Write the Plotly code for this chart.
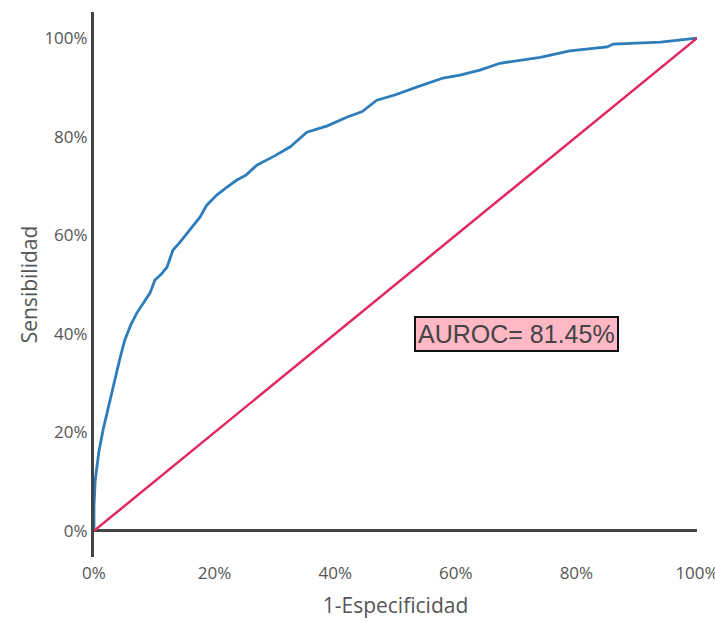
import plotly.graph_objects as go

fpr = [0.0, 0.0, 0.002, 0.008, 0.015, 0.025, 0.035, 0.043, 0.051, 0.061, 0.071, 0.082,
       0.093, 0.101, 0.111, 0.121, 0.131, 0.142, 0.154, 0.165, 0.176, 0.187, 0.204,
       0.220, 0.237, 0.252, 0.270, 0.298, 0.325, 0.353, 0.387, 0.420, 0.445, 0.469,
       0.500, 0.536, 0.579, 0.607, 0.640, 0.673, 0.705, 0.740, 0.789, 0.820, 0.851,
       0.861, 0.900, 0.939, 0.970, 1.0]
tpr = [0.0, 0.05, 0.103, 0.160, 0.205, 0.258, 0.306, 0.350, 0.387, 0.418, 0.442, 0.462,
       0.483, 0.509, 0.520, 0.535, 0.570, 0.585, 0.604, 0.622, 0.637, 0.661, 0.682,
       0.697, 0.712, 0.722, 0.742, 0.760, 0.779, 0.809, 0.822, 0.840, 0.851, 0.874,
       0.885, 0.901, 0.919, 0.925, 0.935, 0.949, 0.954, 0.961, 0.974, 0.978, 0.982,
       0.988, 0.990, 0.992, 0.996, 1.0]
diag_x = [0.0, 1.0]
diag_y = [0.0, 1.0]
auroc_text = "AUROC= 81.45%"
x_title = "1-Especificidad"
y_title = "Sensibilidad"

fig = go.Figure()
fig.add_trace(go.Scatter(x=fpr, y=tpr, mode="lines",
                         line=dict(color="#2e7dbb", width=2.8), showlegend=False))
fig.add_trace(go.Scatter(x=diag_x, y=diag_y, mode="lines",
                         line=dict(color="#e0295f", width=2.5), showlegend=False))

fig.add_annotation(x=0.70, y=0.40, xref="x", yref="y", text=auroc_text, showarrow=False,
                   font=dict(family="Arial", size=25, color="#444"),
                   bgcolor="#ffb8c4", bordercolor="#111", borderwidth=2, borderpad=2)

fig.update_layout(
    width=715, height=622,
    margin=dict(l=94, r=18, t=12, b=65),
    plot_bgcolor="white", paper_bgcolor="white",
    font=dict(family="Open Sans", color="#555"),
    xaxis=dict(range=[0, 1], tickformat=".0%", dtick=0.2, showgrid=False,
               zeroline=False, showline=False, automargin=False,
               ticklabeloverflow="allow", ticklabelstandoff=4,
               tickfont=dict(size=17, color="#555"),
               title=dict(text=x_title, font=dict(size=21, color="#555"), standoff=15)),
    yaxis=dict(range=[-0.053, 1.053], tickformat=".0%", dtick=0.2, showgrid=False,
               zeroline=True, zerolinecolor="#444", zerolinewidth=3,
               showline=True, linecolor="#444", linewidth=3, automargin=False,
               tickfont=dict(size=17, color="#555"),
               title=dict(text=y_title, font=dict(size=21, color="#555"), standoff=2)),
)

fig.write_html("out.html")
